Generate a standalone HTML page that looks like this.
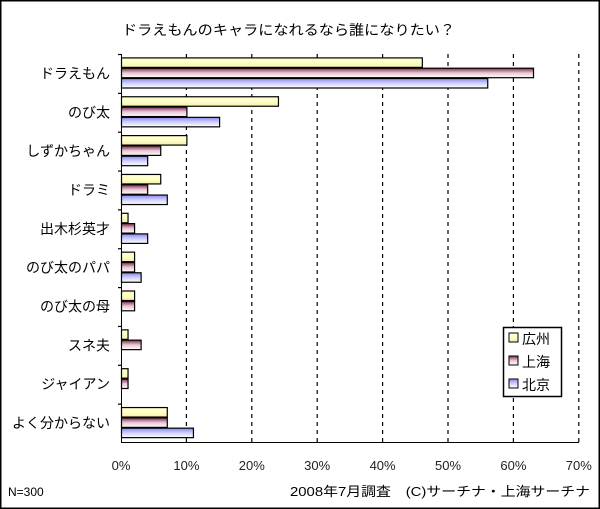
<!DOCTYPE html>
<html><head><meta charset="utf-8"><style>
body{margin:0;background:#fff}
svg{display:block;font-family:"Liberation Sans","Noto Sans CJK JP",sans-serif}
</style></head><body>
<svg width="600" height="509" viewBox="0 0 600 509" xmlns="http://www.w3.org/2000/svg">
<defs>
<linearGradient id="gy" x1="0" y1="0" x2="0" y2="1"><stop offset="0" stop-color="#ffffd0"/><stop offset="0.5" stop-color="#ffffc8"/><stop offset="1" stop-color="#f0f0a8"/></linearGradient>
<linearGradient id="gr" x1="0" y1="0" x2="0" y2="1"><stop offset="0" stop-color="#7a2a50"/><stop offset="0.5" stop-color="#e8c8d4"/><stop offset="1" stop-color="#fff"/></linearGradient>
<linearGradient id="gb" x1="0" y1="0" x2="0" y2="1"><stop offset="0" stop-color="#8888ee"/><stop offset="0.5" stop-color="#d0d0ff"/><stop offset="1" stop-color="#fff"/></linearGradient>
</defs>
<rect x="0.5" y="0.5" width="599" height="508" fill="#fff" stroke="#000" stroke-width="2"/>
<text x="122" y="35" font-size="14" textLength="333" lengthAdjust="spacingAndGlyphs">ドラえもんのキャラになれるなら誰になりたい？</text>
<g stroke="#000" stroke-width="1.2" stroke-dasharray="4,4">
<line x1="186.4" y1="54" x2="186.4" y2="442"/>
<line x1="251.8" y1="54" x2="251.8" y2="442"/>
<line x1="317.2" y1="54" x2="317.2" y2="442"/>
<line x1="382.6" y1="54" x2="382.6" y2="442"/>
<line x1="448" y1="54" x2="448" y2="442"/>
<line x1="513.4" y1="54" x2="513.4" y2="442"/>
<line x1="578.8" y1="54" x2="578.8" y2="442"/>
</g>
<g id="bars" stroke="#000" stroke-width="1.2"></g>
<line x1="121.5" y1="54" x2="121.5" y2="443" stroke="#000"/>
<line x1="121" y1="442.5" x2="579" y2="442.5" stroke="#000"/>
<g font-size="13" text-anchor="middle" fill="#222">
<text x="121" y="470">0%</text><text x="186.4" y="470">10%</text><text x="251.8" y="470">20%</text><text x="317.2" y="470">30%</text><text x="382.6" y="470">40%</text><text x="448" y="470">50%</text><text x="513.4" y="470">60%</text><text x="578.8" y="470">70%</text>
</g>
<g font-size="14" text-anchor="end" id="labels"></g>
<rect x="503.5" y="327.5" width="58" height="69" fill="#fff" stroke="#000" stroke-width="1.5"/>
<rect x="509" y="333" width="9" height="9" fill="url(#gy)" stroke="#000"/>
<rect x="509" y="356" width="9" height="9" fill="url(#gr)" stroke="#000"/>
<rect x="509" y="379" width="9" height="9" fill="url(#gb)" stroke="#000"/>
<g font-size="14"><text x="522" y="344">広州</text><text x="522" y="367">上海</text><text x="522" y="390">北京</text></g>
<text x="8" y="496" font-size="12">N=300</text>
<text x="290" y="496" font-size="13" textLength="300" lengthAdjust="spacingAndGlyphs">2008年7月調査　(C)サーチナ・上海サーチナ</text>
<script>
var names=["ドラえもん","のび太","しずかちゃん","ドラミ","出木杉英才","のび太のパパ","のび太の母","スネ夫","ジャイアン","よく分からない"];
var d=[[46,63,56],[24,10,15],[10,6,4],[6,4,7],[1,2,4],[2,2,3],[2,2,0],[1,3,0],[1,1,0],[7,7,11]];
var g=document.getElementById("bars"),L=document.getElementById("labels"),ns="http://www.w3.org/2000/svg";
var fills=["url(#gy)","url(#gr)","url(#gb)"];
for(var i=0;i<10;i++){var c=54+38.85*i+19.4;
 var t=document.createElementNS(ns,"text");t.setAttribute("x",110);t.setAttribute("y",c+5);t.textContent=names[i];L.appendChild(t);
 var tk=document.createElementNS(ns,"line");tk.setAttribute("x1",118);tk.setAttribute("x2",122);tk.setAttribute("y1",54+38.85*i+0.5);tk.setAttribute("y2",54+38.85*i+0.5);tk.setAttribute("stroke","#000");g.appendChild(tk);
 for(var k=0;k<3;k++){var v=d[i][k];if(!v)continue;var r=document.createElementNS(ns,"rect");
  r.setAttribute("x",121.5);r.setAttribute("y",c-15.5+k*10.3);r.setAttribute("width",v*6.54);r.setAttribute("height",9.5);r.setAttribute("fill",fills[k]);g.appendChild(r);}
}
</script>
</svg>
</body></html>
